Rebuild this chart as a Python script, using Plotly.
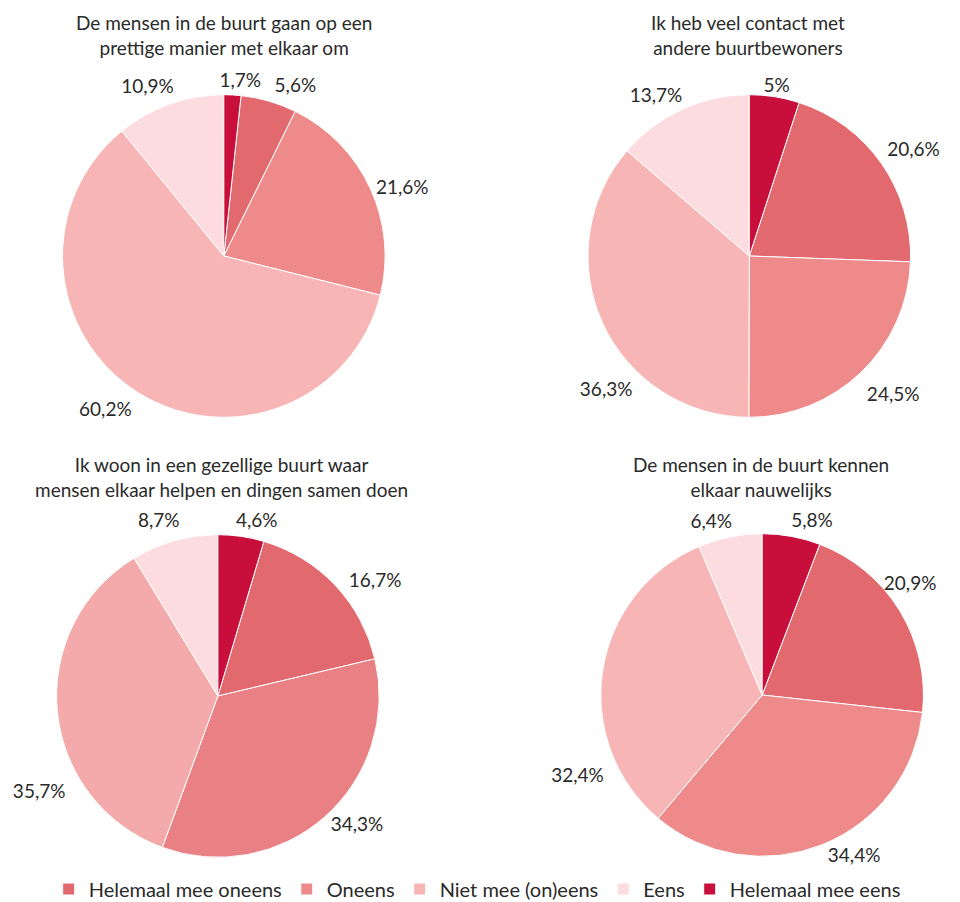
import math
import plotly.graph_objects as go

labels = ["Helemaal mee oneens", "Oneens", "Niet mee (on)eens", "Eens", "Helemaal mee eens"]
colors = ["#E2696E", "#EE8A8A", "#F7B6B5", "#FDDCDF", "#C80E3A"]
colors_pie3 = ["#E2696E", "#E98083", "#F4AAAA", "#FDDCDF", "#C80E3A"]

titles = [
    "De mensen in de buurt gaan op een<br>prettige manier met elkaar om",
    "Ik heb veel contact met<br>andere buurtbewoners",
    "Ik woon in een gezellige buurt waar<br>mensen elkaar helpen en dingen samen doen",
    "De mensen in de buurt kennen<br>elkaar nauwelijks",
]

values_1 = [5.6, 21.6, 60.2, 10.9, 1.7]
values_2 = [20.6, 24.5, 36.3, 13.7, 5.0]
values_3 = [16.7, 34.3, 35.7, 8.7, 4.6]
values_4 = [20.9, 34.4, 32.4, 6.4, 5.8]
all_values = [values_1, values_2, values_3, values_4]
palettes = [colors, colors, colors_pie3, colors]

# ---- layout (screen pixels) ----
W, H = 960, 902
OFF = 8            # body margin of the html page
R = 163
R_OV = 100         # radius of the transparent overlay pies that carry nudged labels
centers = [(216, 256), (747, 256), (210, 696), (760, 695)]
title_pos = [(216, 35), (746, 35), (214, 477), (759, 477)]
# label nudges (pixels) relative to Plotly's default outside position: (pie, slice) -> (dx, dy)
label_nudges = {
    (0, 4): (-19, -3), (0, 0): (0, -5), (0, 3): (10, -8), (0, 2): (0, 8),
    (1, 4): (-17, 0), (1, 3): (6, -5), (1, 0): (0, -11), (1, 1): (0, 15), (1, 2): (36, 63),
    (2, 4): (-11, -5), (2, 3): (11, -10), (2, 0): (8, 0), (2, 2): (14, 79),
    (3, 4): (-6, -5), (3, 3): (8, -5), (3, 0): (-22, -25), (3, 2): (7, 104),
}


def fmt(v):
    s = f"{v:.1f}".replace(".", ",")
    if s.endswith(",0"):
        s = s[:-2]
    return s + "%"


def domain(cx, cy, r):
    cx -= OFF
    cy -= OFF
    return dict(x=[(cx - r) / W, (cx + r) / W], y=[1 - (cy + r) / H, 1 - (cy - r) / H])


FONT = "Lato, 'Noto Sans', sans-serif"
TXT = "#2a2a2a"
FS = 19

fig = go.Figure()
for i, vals in enumerate(all_values):
    cx, cy = centers[i]
    total = sum(vals)
    rot = 360.0 * vals[-1] / total
    txt_all = [fmt(v) for v in vals]
    main_txt = [("" if (i, k) in label_nudges else t) for k, t in enumerate(txt_all)]
    fig.add_trace(go.Pie(
        labels=labels, values=vals, text=main_txt,
        textinfo="text", textposition="outside", texttemplate="%{text}",
        outsidetextfont=dict(family=FONT, size=FS, color=TXT),
        sort=False, direction="clockwise", rotation=rot,
        marker=dict(colors=palettes[i], line=dict(color="white", width=1)),
        domain=domain(cx, cy, R), customdata=txt_all,
        hovertemplate="%{label}: %{customdata}<extra></extra>", showlegend=(i == 0),
    ))
    cum = 0.0
    for k, v in enumerate(vals):
        start = cum
        cum += v
        if (i, k) not in label_nudges:
            continue
        # mid angle of this slice (clockwise from 12 o'clock, after rotation)
        ang = math.radians(rot + 360.0 * (start + v / 2) / total)
        ux, uy = math.sin(ang), -math.cos(ang)
        ndx, ndy = label_nudges[(i, k)]
        ocx = cx + ndx + (R - R_OV) * ux
        ocy = cy + ndy + (R - R_OV) * uy
        ov_txt = [(txt_all[j] if j == k else "") for j in range(len(vals))]
        fig.add_trace(go.Pie(
            labels=labels, values=vals, text=ov_txt,
            textinfo="text", textposition="outside", texttemplate="%{text}",
            outsidetextfont=dict(family=FONT, size=FS, color=TXT),
            sort=False, direction="clockwise", rotation=rot,
            marker=dict(colors=["rgba(0,0,0,0)"] * len(vals), line=dict(width=0)),
            domain=domain(ocx, ocy, R_OV), hoverinfo="skip", showlegend=False,
        ))

annotations = []
for (tx, ty), t in zip(title_pos, titles):
    annotations.append(dict(
        text=t, x=(tx - OFF) / W, y=1 - (ty - OFF) / H, xref="paper", yref="paper",
        xanchor="center", yanchor="middle", showarrow=False,
        font=dict(family=FONT, size=FS, color=TXT), align="center",
    ))

fig.update_layout(
    width=W, height=H,
    margin=dict(l=0, r=0, t=0, b=0),
    paper_bgcolor="white", plot_bgcolor="white",
    font=dict(family=FONT, color=TXT),
    annotations=annotations,
    legend=dict(
        orientation="h", x=(472 - OFF) / W, xanchor="center", y=1 - (889 - OFF) / H, yanchor="middle",
        font=dict(family=FONT, size=20, color=TXT),
        itemwidth=30,
    ),
)

fig.write_html("out.html")
